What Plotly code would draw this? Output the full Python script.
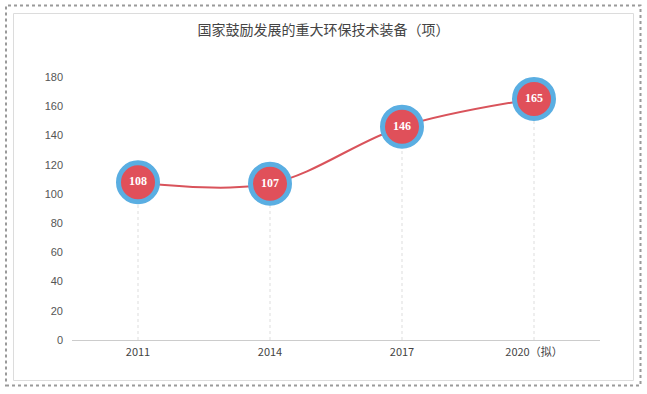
import plotly.graph_objects as go

categories = ["2011", "2014", "2017", "2020（拟）"]
values = [108, 107, 146, 165]
y_ticks = [0, 20, 40, 60, 80, 100, 120, 140, 160, 180]
title_text = "国家鼓励发展的重大环保技术装备（项）"

W, H = 647, 394
L, R, T, B = 72, 47, 77, 54
pw, ph = W - L - R, H - T - B


def px_x(p):
    return (p - L) / pw


def px_y(p):
    return (H - B - p) / ph


fig = go.Figure()

# drop lines
for c, v in zip(categories, values):
    fig.add_trace(go.Scatter(x=[c, c], y=[0, v], mode="lines",
                             line=dict(color="#dddddd", width=1, dash="3px,3px"),
                             hoverinfo="skip", showlegend=False))

fig.add_trace(go.Scatter(
    x=categories, y=values, mode="lines+markers+text",
    line=dict(color="#d9535b", width=2, shape="spline", smoothing=1.0),
    marker=dict(size=39, color="#e0505a", line=dict(color="#5aaee2", width=5)),
    text=[str(v) for v in values], textposition="middle center",
    textfont=dict(family="Liberation Serif", size=12, color="white", weight="bold"),
    cliponaxis=False, showlegend=False,
))

shapes = [
    dict(type="rect", xref="paper", yref="paper",
         x0=px_x(6), x1=px_x(640.5), y0=px_y(385.5), y1=px_y(5.5),
         line=dict(color="#9a9a9a", width=2, dash="dot"), layer="below"),
    dict(type="rect", xref="paper", yref="paper",
         x0=px_x(13.5), x1=px_x(633.5), y0=px_y(380.5), y1=px_y(13.5),
         line=dict(color="#dcdcdc", width=1), layer="below"),
]

fig.update_layout(
    width=W, height=H,
    margin=dict(l=L, r=R, t=T, b=B),
    paper_bgcolor="white", plot_bgcolor="white",
    shapes=shapes,
    title=dict(text=title_text, x=0.5, xanchor="center", y=1 - 30 / H, yanchor="middle",
               font=dict(family="Noto Sans CJK SC", size=14, color="#444")),
    xaxis=dict(type="category", range=[-0.5, 3.5], showgrid=False, zeroline=False,
               showline=True, linecolor="#cccccc", linewidth=1, ticks="",
               ticklabelstandoff=2,
               tickfont=dict(family="Noto Sans CJK SC", size=11, color="#444")),
    yaxis=dict(range=[0, 180], tickvals=y_ticks, showgrid=False, zeroline=False,
               showline=False, ticks="", ticklabelstandoff=8,
               tickfont=dict(family="Liberation Sans", size=11, color="#555555")),
    font=dict(family="Noto Sans CJK SC", color="#555555"),
)

fig.write_html("out.html", config={"displayModeBar": False, "staticPlot": True},
               post_script="document.body.style.margin='0';document.body.style.overflow='hidden';")
